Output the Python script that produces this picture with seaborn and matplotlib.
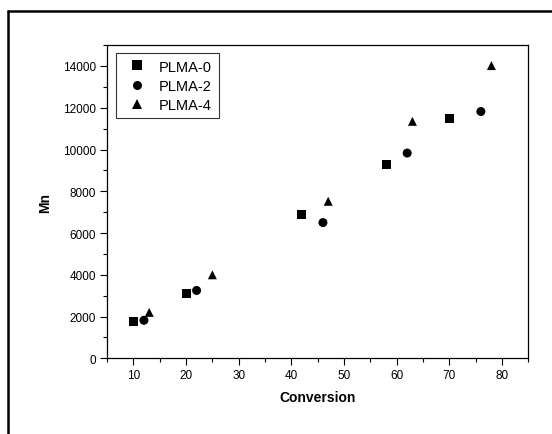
import pandas as pd
import matplotlib.pyplot as plt
import seaborn as sns
from matplotlib.lines import Line2D
from matplotlib.ticker import MultipleLocator

# values
series_names = ["PLMA-0", "PLMA-2", "PLMA-4"]
plma0_conv = [10, 20, 42, 58, 70]
plma0_mn = [1750, 3100, 6900, 9300, 11500]
plma2_conv = [12, 22, 46, 62, 76]
plma2_mn = [1820, 3250, 6500, 9830, 11820]
plma4_conv = [13, 25, 47, 63, 78]
plma4_mn = [2200, 4000, 7520, 11350, 14020]


def build_frame():
    frames = []
    for name, conv, mn in zip(series_names,
                              [plma0_conv, plma2_conv, plma4_conv],
                              [plma0_mn, plma2_mn, plma4_mn]):
        frames.append(pd.DataFrame({"Conversion": conv, "Mn": mn, "Sample": name}))
    return pd.concat(frames, ignore_index=True)


def main():
    data = build_frame()

    sns.set_style("ticks")
    plt.rcParams["font.family"] = ["Liberation Sans", "DejaVu Sans"]
    plt.rcParams["text.color"] = "black"
    plt.rcParams["axes.labelcolor"] = "black"
    plt.rcParams["xtick.color"] = "black"
    plt.rcParams["ytick.color"] = "black"

    fig = plt.figure(figsize=(5.52, 4.35), dpi=100)
    ax = fig.add_axes([0.194, 0.174, 0.763, 0.720])

    sns.scatterplot(data=data, x="Conversion", y="Mn", style="Sample",
                    markers={"PLMA-0": "s", "PLMA-2": "o", "PLMA-4": "^"},
                    color="black", edgecolor="black", linewidth=0,
                    s=42, ax=ax, legend=True)

    ax.set_xlim(5, 85)
    ax.set_ylim(0, 15000)
    ax.set_xticks([10, 20, 30, 40, 50, 60, 70, 80])
    ax.set_yticks(range(0, 15000, 2000))
    ax.xaxis.set_minor_locator(MultipleLocator(5))
    ax.yaxis.set_minor_locator(MultipleLocator(1000))
    ax.tick_params(which="major", direction="out", length=5, width=0.8,
                   labelsize=8.5, colors="black", pad=3)
    ax.tick_params(which="minor", direction="out", length=3, width=0.8)

    for side in ["left", "right", "top", "bottom"]:
        ax.spines[side].set_visible(True)
        ax.spines[side].set_linewidth(0.9)
        ax.spines[side].set_color("black")

    ax.set_xlabel("Conversion", fontsize=10, fontweight="bold", labelpad=6)
    ax.set_ylabel("Mn", fontsize=10, fontweight="bold", labelpad=8)

    leg = ax.legend(loc="upper left", bbox_to_anchor=(0.021, 0.975),
                    borderaxespad=0, fontsize=10.5, frameon=True,
                    fancybox=False, edgecolor="black", handletextpad=0.5,
                    borderpad=0.45, labelspacing=0.35, markerscale=1.0)
    leg.get_frame().set_linewidth(0.8)

    # outer frame (left and top edges only, as in the reference)
    W, H = 552.0, 435.0
    fig.add_artist(Line2D([8 / W, 8 / W], [0, 1 - 12 / H],
                          transform=fig.transFigure, color="black", lw=1.8))
    fig.add_artist(Line2D([8 / W, 1], [1 - 12 / H, 1 - 12 / H],
                          transform=fig.transFigure, color="black", lw=1.8))

    fig.savefig("out.png", dpi=100, facecolor="white")


if __name__ == "__main__":
    main()
